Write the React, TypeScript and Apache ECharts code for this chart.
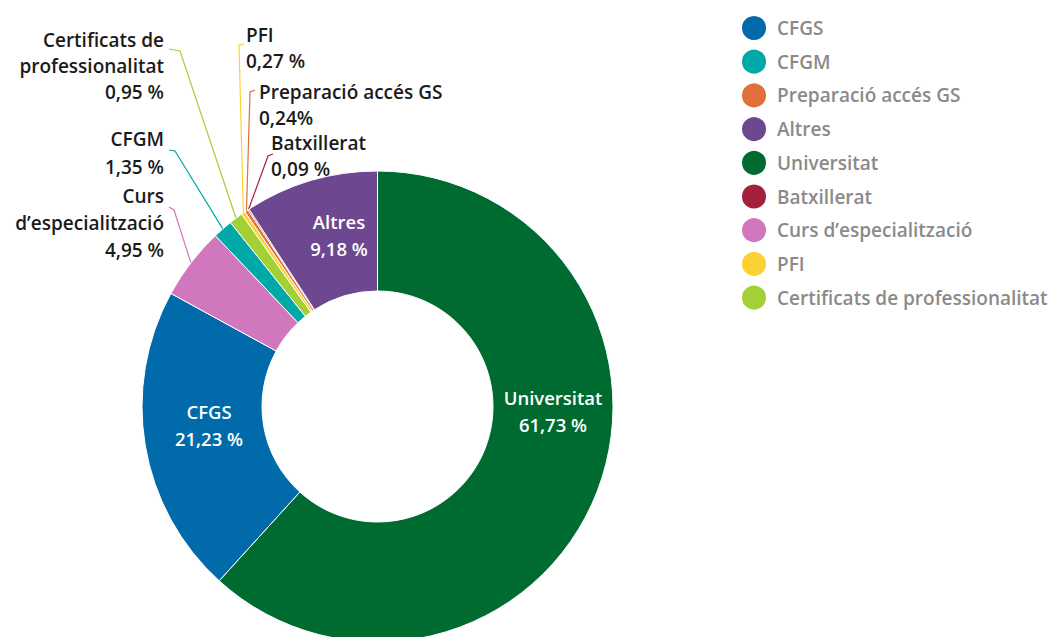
import React, { useEffect, useRef } from "react";
import * as echarts from "echarts";

// ---- data ----
const categories = [
  "Universitat",
  "CFGS",
  "Curs d’especialització",
  "CFGM",
  "Certificats de professionalitat",
  "PFI",
  "Preparació accés GS",
  "Batxillerat",
  "Altres",
];
const values = [61.73, 21.23, 4.95, 1.35, 0.95, 0.27, 0.24, 0.09, 9.18];
const valueTexts = ["61,73 %", "21,23 %", "4,95 %", "1,35 %", "0,95 %", "0,27 %", "0,24%", "0,09 %", "9,18 %"];
const labelTitles = [
  "Universitat",
  "CFGS",
  "Curs\nd’especialització",
  "CFGM",
  "Certificats de\nprofessionalitat",
  "PFI",
  "Preparació accés GS",
  "Batxillerat",
  "Altres",
];
const colors = ["#006b30", "#006aaa", "#d177bd", "#00a8a8", "#a2d035", "#fcd232", "#e0703b", "#a3213a", "#6d4790"];
const legendOrder = [
  "CFGS",
  "CFGM",
  "Preparació accés GS",
  "Altres",
  "Universitat",
  "Batxillerat",
  "Curs d’especialització",
  "PFI",
  "Certificats de professionalitat",
];

// ---- label placement (layout, not data) ----
type Place = {
  inside: boolean;
  x: number;
  y: number;
  align: "left" | "right" | "center";
  lh: number;
  bend?: number[];
  end?: number[];
};
const placements: Place[] = [
  { inside: true, x: 553, y: 411, align: "center", lh: 27 },
  { inside: true, x: 209, y: 425, align: "center", lh: 27 },
  { inside: false, x: 164, y: 223, align: "right", lh: 27, bend: [174, 210], end: [169, 207] },
  { inside: false, x: 164, y: 153, align: "right", lh: 28, bend: [175, 151], end: [169, 150] },
  { inside: false, x: 164, y: 66, align: "right", lh: 26, bend: [180, 51], end: [169, 49] },
  { inside: false, x: 246, y: 48, align: "left", lh: 26, bend: [239, 45], end: [244, 44] },
  { inside: false, x: 259, y: 105, align: "left", lh: 26, bend: [250, 92], end: [255, 90] },
  { inside: false, x: 271, y: 156, align: "left", lh: 26, bend: [268, 156], end: [273, 154] },
  { inside: true, x: 339, y: 235, align: "center", lh: 27 },
];

const FONT = "'Open Sans', Lato, sans-serif";

export default function App() {
  const ref = useRef<HTMLDivElement>(null);
  useEffect(() => {
    if (!ref.current) return;
    const chart = echarts.init(ref.current, undefined, { renderer: "svg" });
    const data = categories.map((name, i) => {
      const p = placements[i];
      return {
        name,
        value: values[i],
        itemStyle: { color: colors[i] },
        label: {
          position: p.inside ? "inside" : "outside",
          formatter: labelTitles[i] + "\n" + valueTexts[i],
          color: p.inside ? "#ffffff" : "#1b1b1b",
          fontSize: p.inside ? 18.5 : 19,
          fontWeight: 600,
          lineHeight: p.lh,
          align: p.align,
        },
        labelLine: { show: !p.inside },
      };
    });
    chart.setOption({
      animation: false,
      legend: {
        orient: "vertical",
        left: 740,
        top: 14,
        padding: 0,
        data: legendOrder,
        icon: "circle",
        itemWidth: 26,
        itemHeight: 26,
        itemGap: 5.7,
        selectedMode: false,
        textStyle: {
          color: "#8a8a8a",
          fontSize: 19,
          lineHeight: 26,
          fontWeight: 600,
          fontFamily: FONT,
          padding: [0, 0, 0, 5],
        },
      },
      series: [
        {
          type: "pie",
          center: [377.5, 406.5],
          radius: [115.5, 235.5],
          startAngle: 90,
          clockwise: true,
          avoidLabelOverlap: false,
          itemStyle: { borderColor: "#ffffff", borderWidth: 1 },
          label: {
            fontSize: 19,
            fontWeight: 600,
            fontFamily: FONT,
          },
          labelLine: { lineStyle: { width: 1.2 } },
          emphasis: { disabled: true },
          labelLayout: (params: any) => {
            const p = placements[params.dataIndex];
            const res: any = { x: p.x, y: p.y, align: p.align, verticalAlign: "middle" };
            if (!p.inside && params.labelLinePoints && p.bend && p.end) {
              res.labelLinePoints = [params.labelLinePoints[0], p.bend, p.end];
            }
            return res;
          },
          data,
        },
      ],
    });
    return () => chart.dispose();
  }, []);
  return (
    <div
      ref={ref}
      style={{ position: "absolute", left: 0, top: 0, width: 1049, height: 637, background: "#ffffff" }}
    />
  );
}
